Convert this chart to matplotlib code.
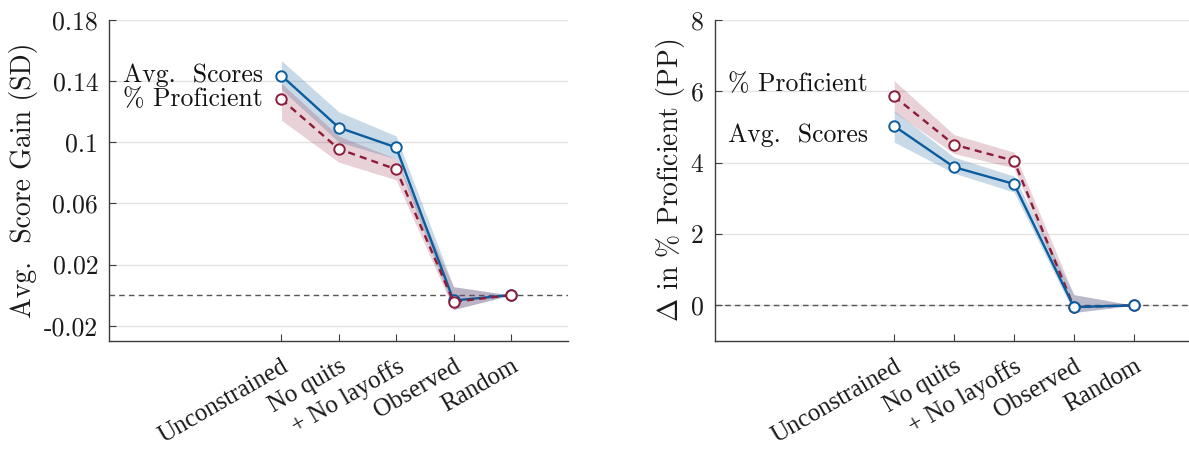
import numpy as np
import matplotlib
matplotlib.use('Agg')
import matplotlib.pyplot as plt

plt.rcParams['font.family'] = ['cmr10', 'DejaVu Serif']
plt.rcParams['mathtext.fontset'] = 'cm'
plt.rcParams['axes.unicode_minus'] = False
plt.rcParams['axes.formatter.use_mathtext'] = True

categories = ['Unconstrained', 'No quits', '+ No layoffs', 'Observed', 'Random']

# left panel: avg. score gain (SD)
sd_avg = [0.1435, 0.1095, 0.0965, -0.0035, 0.0]
sd_avg_lo = [0.1345, 0.1000, 0.0890, -0.0094, 0.0]
sd_avg_hi = [0.1533, 0.1198, 0.1040, 0.0055, 0.0]
sd_prof = [0.1280, 0.0955, 0.0822, -0.0044, 0.0]
sd_prof_lo = [0.1143, 0.0869, 0.0753, -0.0094, 0.0]
sd_prof_hi = [0.1385, 0.1040, 0.0890, 0.0055, 0.0]

# right panel: change in % proficient (PP)
pp_prof = [5.85, 4.50, 4.05, -0.05, 0.0]
pp_prof_lo = [5.41, 4.25, 3.85, -0.20, 0.0]
pp_prof_hi = [6.29, 4.78, 4.29, 0.30, 0.0]
pp_avg = [5.02, 3.87, 3.40, -0.05, 0.0]
pp_avg_lo = [4.57, 3.70, 3.17, -0.20, 0.0]
pp_avg_hi = [5.45, 4.15, 3.62, 0.30, 0.0]

sd_ticks = [-0.02, 0.02, 0.06, 0.1, 0.14, 0.18]
sd_ticklabels = ['-0.02', '0.02', '0.06', '0.1', '0.14', '0.18']
pp_ticks = [0, 2, 4, 6, 8]
pp_ticklabels = ['0', '2', '4', '6', '8']

blue = '#0b5c9e'
red = '#8c1c3a'
blue_band = '#4a86b5'
red_band = '#8c1c3a'
spine_c = '#3c3c3c'

x = np.arange(1, len(categories) + 1)


def style_axes(ax, ticks, ticklabels, ylim, ylabel):
    ax.set_xlim(-2, 6)
    ax.set_ylim(*ylim)
    ax.set_yticks(ticks)
    ax.set_yticklabels(ticklabels, fontsize=18.5)
    ax.set_xticks(x)
    ax.set_xticklabels(categories, rotation=30, ha='right', rotation_mode='anchor',
                       fontsize=18, family='Liberation Serif')
    ax.tick_params(direction='in', length=5, width=0.8, colors=spine_c, pad=8,
                   labelcolor='#1a1a1a')
    ax.tick_params(axis='x', pad=10)
    for s in ['top', 'right']:
        ax.spines[s].set_visible(False)
    for s in ['left', 'bottom']:
        ax.spines[s].set_color(spine_c)
        ax.spines[s].set_linewidth(1.0)
    ax.grid(axis='y', color='#e3e3e3', lw=1.0)
    ax.set_axisbelow(True)
    ax.axhline(0, color='#555555', lw=1.0, dashes=(4, 3), zorder=1)
    ax.set_ylabel(ylabel, fontsize=20, color='#1a1a1a')


def draw_series(ax, y, lo, hi, c, bc, alpha, dashed, z):
    ax.fill_between(x, lo, hi, color=bc, alpha=alpha, lw=0, zorder=z)
    line, = ax.plot(x, y, color=c, lw=1.7, marker='o', ms=7.5, mfc='white',
                    mec=c, mew=1.4, zorder=z + 2)
    if dashed:
        line.set_dashes((3, 2.2))


fig = plt.figure(figsize=(11.89, 4.53), dpi=100)
ax1 = fig.add_axes([0.0919, 0.2472, 0.3861, 0.7093])
ax2 = fig.add_axes([0.6010, 0.2472, 0.4029, 0.7093])

# left
draw_series(ax1, sd_avg, sd_avg_lo, sd_avg_hi, blue, blue_band, 0.3, False, 3)
draw_series(ax1, sd_prof, sd_prof_lo, sd_prof_hi, red, red_band, 0.2, True, 4)
style_axes(ax1, sd_ticks, sd_ticklabels, (-0.03, 0.18), 'Avg.  Score Gain (SD)')
ax1.text(-1.76, sd_avg[0], 'Avg.  Scores', fontsize=18.5, va='center', ha='left', color='#111111')
ax1.text(-1.76, sd_prof[0], '% Proficient', fontsize=18.5, va='center', ha='left', color='#111111')
ax1.yaxis.set_label_coords(-0.155, 0.5)

# right
draw_series(ax2, pp_avg, pp_avg_lo, pp_avg_hi, blue, blue_band, 0.3, False, 3)
draw_series(ax2, pp_prof, pp_prof_lo, pp_prof_hi, red, red_band, 0.2, True, 2)
style_axes(ax2, pp_ticks, pp_ticklabels, (-1, 8), r'$\Delta$ in % Proficient (PP)')
ax2.text(-1.78, 6.2, '% Proficient', fontsize=18.5, va='center', ha='left', color='#111111')
ax2.text(-1.78, 4.76, 'Avg.  Scores', fontsize=18.5, va='center', ha='left', color='#111111')
ax2.yaxis.set_label_coords(-0.058, 0.5)

fig.savefig('out.png', dpi=100)
